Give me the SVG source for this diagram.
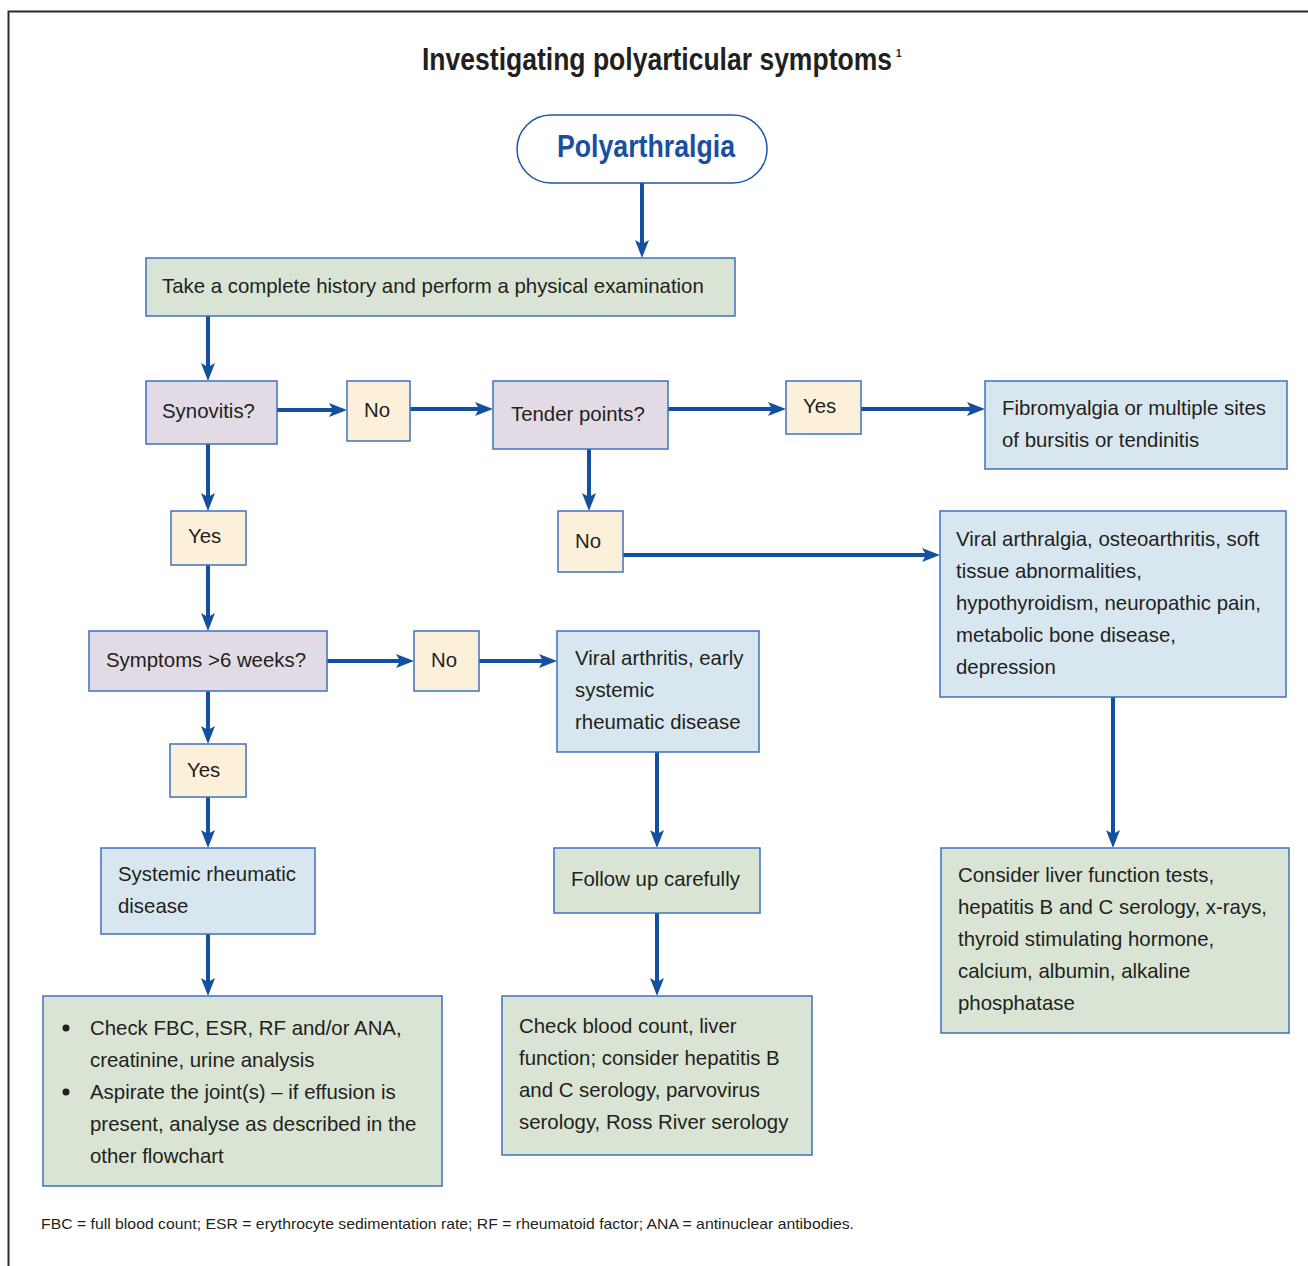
<svg xmlns="http://www.w3.org/2000/svg" width="1308" height="1266" viewBox="0 0 1308 1266">
<style>
.t{font-family:"Liberation Sans",Arial,sans-serif;font-size:20.4px;fill:#231f20}
.box{stroke:#3f72bf;stroke-width:1.5}
.g{fill:#d9e4d4}.p{fill:#e2dae5}.y{fill:#fdf0da}.b{fill:#d8e7ef}
.c{stroke:#1450a0;stroke-width:4;fill:none}
</style>
<defs>
<marker id="ah" markerUnits="userSpaceOnUse" markerWidth="20" markerHeight="16" refX="6" refY="7" orient="auto">
<path d="M0,0 L18,7 L0,14 L4,7 z" fill="#1450a0"/>
</marker>
</defs>
<rect width="1308" height="1266" fill="#fff"/>
<path d="M8.5,1266 V11.5 H1308" fill="none" stroke="#2b2b2b" stroke-width="2"/>
<text transform="translate(422,70) scale(0.829,1)" x="0" y="0" font-family="'Liberation Sans',Arial,sans-serif" font-weight="bold" font-size="32" fill="#231f20">Investigating polyarticular symptoms</text>
<text x="896" y="57" font-family="'Liberation Sans',Arial,sans-serif" font-weight="bold" font-size="10" fill="#231f20">1</text>

<g id="connectors">
<path class="c" marker-end="url(#ah)" d="M642,183 V246"/>
<path class="c" marker-end="url(#ah)" d="M208,316 V369"/>
<path class="c" marker-end="url(#ah)" d="M277,410 H335"/>
<path class="c" marker-end="url(#ah)" d="M410,409 H481"/>
<path class="c" marker-end="url(#ah)" d="M668,409 H774"/>
<path class="c" marker-end="url(#ah)" d="M861,409 H973"/>
<path class="c" marker-end="url(#ah)" d="M589,449 V499"/>
<path class="c" marker-end="url(#ah)" d="M623,555 H928"/>
<path class="c" marker-end="url(#ah)" d="M1113,697 V836"/>
<path class="c" marker-end="url(#ah)" d="M208,444 V499"/>
<path class="c" marker-end="url(#ah)" d="M208,565 V619"/>
<path class="c" marker-end="url(#ah)" d="M327,661 H402"/>
<path class="c" marker-end="url(#ah)" d="M479,661 H545"/>
<path class="c" marker-end="url(#ah)" d="M657,752 V836"/>
<path class="c" marker-end="url(#ah)" d="M657,913 V984"/>
<path class="c" marker-end="url(#ah)" d="M208,691 V732"/>
<path class="c" marker-end="url(#ah)" d="M208,797 V836"/>
<path class="c" marker-end="url(#ah)" d="M208,934 V984"/>
</g>

<g id="polyarthralgia">
<rect x="517" y="115" width="250" height="68" rx="34" fill="#fff" stroke="#1d55a8" stroke-width="1.5"/>
<text x="557" y="157" font-family="'Liberation Sans',Arial,sans-serif" font-weight="bold" font-size="32" fill="#1a4f9f" textLength="178" lengthAdjust="spacingAndGlyphs">Polyarthralgia</text>
</g>
<g id="history">
<rect class="box g" x="146" y="258" width="589" height="58"/>
<text class="t" x="162" y="293">Take a complete history and perform a physical examination</text>
</g>
<g id="synovitis">
<rect class="box p" x="146" y="381" width="131" height="63"/>
<text class="t" x="162" y="418">Synovitis?</text>
</g>
<g id="no1">
<rect class="box y" x="347" y="381" width="63" height="60"/>
<text class="t" x="364" y="417">No</text>
</g>
<g id="tender">
<rect class="box p" x="493" y="381" width="175" height="68"/>
<text class="t" x="511" y="421">Tender points?</text>
</g>
<g id="yes1">
<rect class="box y" x="786" y="381" width="75" height="53"/>
<text class="t" x="803" y="413">Yes</text>
</g>
<g id="fibromyalgia">
<rect class="box b" x="985" y="381" width="302" height="88"/>
<text class="t" x="1002" y="415">Fibromyalgia or multiple sites</text>
<text class="t" x="1002" y="447">of bursitis or tendinitis</text>
</g>
<g id="no2">
<rect class="box y" x="558" y="511" width="65" height="61"/>
<text class="t" x="575" y="548">No</text>
</g>
<g id="viral-arthralgia">
<rect class="box b" x="940" y="511" width="346" height="186"/>
<text class="t" x="956" y="546">Viral arthralgia, osteoarthritis, soft</text>
<text class="t" x="956" y="578">tissue abnormalities,</text>
<text class="t" x="956" y="610">hypothyroidism, neuropathic pain,</text>
<text class="t" x="956" y="642">metabolic bone disease,</text>
<text class="t" x="956" y="674">depression</text>
</g>
<g id="consider">
<rect class="box g" x="941" y="848" width="348" height="185"/>
<text class="t" x="958" y="882">Consider liver function tests,</text>
<text class="t" x="958" y="914">hepatitis B and C serology, x-rays,</text>
<text class="t" x="958" y="946">thyroid stimulating hormone,</text>
<text class="t" x="958" y="978">calcium, albumin, alkaline</text>
<text class="t" x="958" y="1010">phosphatase</text>
</g>
<g id="yes2">
<rect class="box y" x="171" y="511" width="75" height="54"/>
<text class="t" x="188" y="543">Yes</text>
</g>
<g id="symptoms">
<rect class="box p" x="89" y="631" width="238" height="60"/>
<text class="t" x="106" y="667">Symptoms &gt;6 weeks?</text>
</g>
<g id="no3">
<rect class="box y" x="414" y="631" width="65" height="60"/>
<text class="t" x="431" y="667">No</text>
</g>
<g id="viral-arthritis">
<rect class="box b" x="557" y="631" width="202" height="121"/>
<text class="t" x="575" y="665">Viral arthritis, early</text>
<text class="t" x="575" y="697">systemic</text>
<text class="t" x="575" y="729">rheumatic disease</text>
</g>
<g id="follow-up">
<rect class="box g" x="554" y="848" width="206" height="65"/>
<text class="t" x="571" y="886">Follow up carefully</text>
</g>
<g id="check-blood">
<rect class="box g" x="502" y="996" width="310" height="159"/>
<text class="t" x="519" y="1033">Check blood count, liver</text>
<text class="t" x="519" y="1065">function; consider hepatitis B</text>
<text class="t" x="519" y="1097">and C serology, parvovirus</text>
<text class="t" x="519" y="1129">serology, Ross River serology</text>
</g>
<g id="yes3">
<rect class="box y" x="170" y="744" width="76" height="53"/>
<text class="t" x="187" y="777">Yes</text>
</g>
<g id="systemic">
<rect class="box b" x="101" y="848" width="214" height="86"/>
<text class="t" x="118" y="881">Systemic rheumatic</text>
<text class="t" x="118" y="913">disease</text>
</g>
<g id="check-fbc">
<rect class="box g" x="43" y="996" width="399" height="190"/>
<circle cx="66" cy="1028" r="3.5" fill="#231f20"/>
<circle cx="66" cy="1092" r="3.5" fill="#231f20"/>
<text class="t" x="90" y="1035">Check FBC, ESR, RF and/or ANA,</text>
<text class="t" x="90" y="1067">creatinine, urine analysis</text>
<text class="t" x="90" y="1099">Aspirate the joint(s) – if effusion is</text>
<text class="t" x="90" y="1131">present, analyse as described in the</text>
<text class="t" x="90" y="1163">other flowchart</text>
</g>
<text x="41" y="1229" font-family="'Liberation Sans',Arial,sans-serif" font-size="15" fill="#231f20" textLength="813" lengthAdjust="spacingAndGlyphs">FBC = full blood count; ESR = erythrocyte sedimentation rate; RF = rheumatoid factor; ANA = antinuclear antibodies.</text>
</svg>
